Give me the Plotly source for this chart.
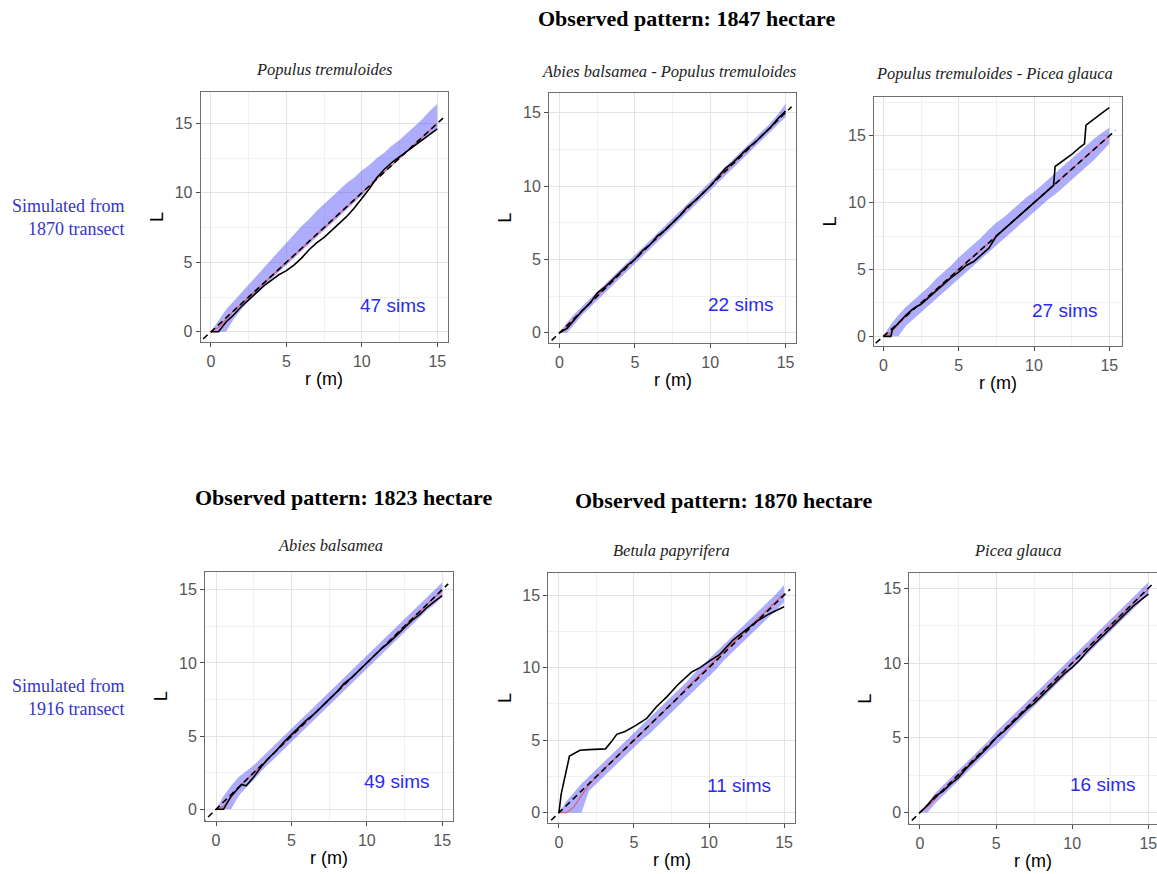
import plotly.graph_objects as go

# ---------------- data ----------------
R = [0, 0.5, 1, 1.5, 2, 2.5, 3, 3.5, 4, 4.5, 5, 5.5, 6, 6.5, 7, 7.5, 8, 8.5, 9, 9.5,
     10, 10.5, 11, 11.5, 12, 12.5, 13, 13.5, 14, 14.5, 15]

# theoretical L = r (dashed)
theo_r = [-1.0, 15.4]
theo_L = [-1.0, 15.4]

# Panel 1: Populus tremuloides (47 sims)
lo1 = [0, 0, 0, 0.9, 1.6, 2.2, 2.7, 3.2, 3.8, 4.3, 4.8, 5.3, 5.8, 6.3, 6.8, 7.3, 7.8, 8.3, 8.8, 9.3,
       9.8, 10.4, 11.0, 11.6, 12.1, 12.5, 13.0, 13.4, 13.8, 14.2, 14.6]
hi1 = [0, 0.8, 1.6, 2.2, 2.8, 3.4, 4.0, 4.6, 5.2, 5.8, 6.4, 7.0, 7.6, 8.1, 8.7, 9.2, 9.7, 10.2, 10.7, 11.1,
       11.6, 12.0, 12.5, 12.9, 13.4, 13.8, 14.3, 14.8, 15.3, 15.9, 16.4]
mean1 = [0, 0.3, 0.9, 1.5, 2.0, 2.5, 3.0, 3.5, 4.0, 4.5, 5.0, 5.5, 6.0, 6.5, 7.0, 7.5, 8.0, 8.5, 9.0, 9.5,
         10.0, 10.5, 11.0, 11.5, 12.0, 12.5, 13.0, 13.5, 14.0, 14.5, 15.0]
obs1_r = R
obs1_L = [0, 0, 0.7, 1.2, 1.8, 2.3, 2.8, 3.3, 3.7, 4.1, 4.4, 4.8, 5.3, 5.9, 6.4, 6.8, 7.3, 7.8, 8.3, 8.9,
          9.6, 10.3, 11.1, 11.7, 12.2, 12.6, 13.0, 13.4, 13.8, 14.2, 14.6]

# Panel 2: Abies balsamea - Populus tremuloides (22 sims)
lo2 = [0, 0, 0.6, 1.2, 1.7, 2.2, 2.7, 3.2, 3.7, 4.2, 4.7, 5.2, 5.7, 6.2, 6.7, 7.2, 7.7, 8.2, 8.7, 9.2,
       9.7, 10.2, 10.7, 11.2, 11.7, 12.2, 12.7, 13.2, 13.7, 14.2, 14.7]
hi2 = [0, 0.7, 1.3, 1.8, 2.3, 2.8, 3.3, 3.8, 4.3, 4.8, 5.3, 5.8, 6.3, 6.8, 7.3, 7.8, 8.3, 8.8, 9.3, 9.8,
       10.3, 10.8, 11.3, 11.8, 12.3, 12.8, 13.3, 13.8, 14.3, 14.9, 15.6]
mean2 = [0, 0.4, 1.0, 1.5, 2.0, 2.5, 3.0, 3.5, 4.0, 4.5, 5.0, 5.5, 6.0, 6.5, 7.0, 7.5, 8.0, 8.5, 9.0, 9.5,
         10.0, 10.5, 11.0, 11.5, 12.0, 12.5, 13.0, 13.5, 14.0, 14.6, 15.1]
obs2_r = R
obs2_L = [0, 0.3, 0.9, 1.5, 2.0, 2.7, 3.1, 3.6, 4.1, 4.6, 5.0, 5.6, 6.0, 6.6, 7.0, 7.5, 8.0, 8.6, 9.0, 9.5,
          10.0, 10.6, 11.2, 11.6, 12.1, 12.6, 13.0, 13.5, 14.0, 14.6, 15.1]

# Panel 3: Populus tremuloides - Picea glauca (27 sims)
lo3 = [0, 0, 0, 0.8, 1.3, 1.8, 2.3, 2.8, 3.3, 3.8, 4.3, 4.8, 5.3, 5.8, 6.3, 6.8, 7.3, 7.8, 8.3, 8.8,
       9.3, 9.8, 10.3, 10.7, 11.2, 11.7, 12.2, 12.7, 13.2, 13.8, 14.4]
hi3 = [0, 0.9, 1.6, 2.2, 2.7, 3.2, 3.7, 4.3, 4.8, 5.3, 5.9, 6.4, 6.9, 7.4, 8.0, 8.5, 8.9, 9.4, 9.9, 10.4,
       10.8, 11.3, 11.8, 12.3, 12.8, 13.3, 13.8, 14.3, 14.8, 15.2, 15.6]
mean3 = [0, 0.3, 0.9, 1.5, 2.0, 2.5, 3.0, 3.5, 4.0, 4.5, 5.0, 5.5, 6.0, 6.5, 7.0, 7.5, 8.0, 8.5, 9.0, 9.5,
         10.0, 10.5, 11.0, 11.5, 12.0, 12.5, 13.0, 13.5, 14.0, 14.5, 15.0]
obs3_r = [0, 0.5, 0.6, 1.0, 1.5, 2.0, 2.5, 3.0, 3.5, 4.0, 4.5, 5.0, 5.5, 6.0, 6.5, 7.0, 7.5, 8.0, 8.5, 9.0,
          9.5, 10.0, 10.5, 11.0, 11.3, 11.4, 12.0, 12.5, 13.0, 13.35, 13.45, 14.0, 14.5, 15.0]
obs3_L = [0, 0, 0.5, 1.0, 1.6, 2.1, 2.4, 2.9, 3.4, 3.9, 4.4, 4.8, 5.3, 5.6, 6.1, 6.6, 7.5, 8.0, 8.5, 9.0,
          9.5, 10.0, 10.5, 11.0, 11.3, 12.7, 13.2, 13.6, 14.1, 14.4, 15.8, 16.3, 16.7, 17.1]

# Panel 4: Abies balsamea (49 sims)
lo4 = [0, 0, 0, 0.9, 1.5, 2.0, 2.6, 3.1, 3.6, 4.1, 4.6, 5.1, 5.6, 6.1, 6.6, 7.1, 7.6, 8.1, 8.6, 9.1,
       9.6, 10.1, 10.6, 11.1, 11.6, 12.1, 12.6, 13.1, 13.6, 14.0, 14.5]
hi4 = [0, 0.9, 1.6, 2.2, 2.6, 3.0, 3.5, 4.0, 4.5, 5.0, 5.5, 6.0, 6.5, 7.0, 7.5, 8.0, 8.5, 9.0, 9.5, 10.0,
       10.5, 11.0, 11.5, 12.0, 12.5, 13.0, 13.5, 14.0, 14.5, 15.0, 15.5]
mean4 = [0, 0.2, 0.8, 1.5, 2.0, 2.5, 3.0, 3.5, 4.0, 4.5, 5.0, 5.5, 6.0, 6.5, 7.0, 7.5, 8.0, 8.5, 9.0, 9.5,
         10.0, 10.5, 11.0, 11.5, 12.0, 12.5, 13.0, 13.5, 14.0, 14.5, 14.9]
obs4_r = [0, 0.5, 1.0, 1.5, 1.7, 2.0, 2.5, 3.0, 3.5, 4.0, 4.5, 5.0, 5.5, 6.0, 6.5, 7.0, 7.5, 8.0, 8.5, 9.0,
          9.5, 10.0, 10.5, 11.0, 11.5, 12.0, 12.5, 13.0, 13.5, 14.0, 14.5, 15.0]
obs4_L = [0, 0, 0.9, 1.5, 1.7, 1.6, 2.2, 2.9, 3.5, 4.0, 4.6, 5.1, 5.6, 6.1, 6.5, 7.0, 7.5, 8.0, 8.6, 9.0,
          9.5, 10.0, 10.5, 11.0, 11.4, 11.9, 12.4, 12.9, 13.3, 13.8, 14.2, 14.6]

# Panel 5: Betula papyrifera (11 sims)
lo5 = [0, 0, 0, 0, 1.5, 2.0, 2.5, 3.0, 3.5, 4.0, 4.5, 5.0, 5.4, 5.9, 6.4, 6.9, 7.4, 7.9, 8.4, 8.9,
       9.4, 9.9, 10.5, 11.0, 11.5, 12.0, 12.5, 13.0, 13.5, 14.0, 14.5]
hi5 = [0, 0.8, 1.4, 2.0, 2.5, 3.0, 3.5, 4.0, 4.5, 5.0, 5.5, 6.0, 6.5, 7.0, 7.5, 8.0, 8.5, 9.0, 9.6, 10.1,
       10.6, 11.1, 11.6, 12.1, 12.6, 13.1, 13.6, 14.1, 14.6, 15.1, 15.7]
mean5 = [0, 0, 0.4, 1.2, 1.9, 2.5, 3.0, 3.5, 4.0, 4.5, 5.0, 5.5, 6.0, 6.5, 7.0, 7.5, 8.0, 8.6, 9.1, 9.6,
         10.1, 10.6, 11.1, 11.6, 12.1, 12.6, 13.1, 13.6, 14.1, 14.6, 15.1]
obs5_r = [0, 0.15, 0.7, 1.4, 2.0, 2.7, 3.1, 3.5, 3.85, 4.4, 5.1, 5.85, 6.5, 7.2, 8.0, 8.85, 9.4, 10.1,
          10.7, 11.6, 12.1, 13.2, 14.0, 15.0]
obs5_L = [0, 1.3, 3.9, 4.3, 4.35, 4.4, 4.4, 4.9, 5.4, 5.6, 6.0, 6.5, 7.3, 8.0, 8.9, 9.7, 10.0, 10.5,
          10.9, 11.9, 12.3, 13.2, 13.7, 14.2]

# Panel 6: Picea glauca (16 sims)
lo6 = [0, 0, 0.6, 1.1, 1.6, 2.1, 2.6, 3.1, 3.6, 4.1, 4.5, 5.0, 5.6, 6.1, 6.6, 7.1, 7.6, 8.1, 8.6, 9.1,
       9.6, 10.1, 10.6, 11.1, 11.6, 12.1, 12.6, 13.1, 13.6, 14.1, 14.6]
hi6 = [0, 0.6, 1.3, 1.8, 2.3, 2.8, 3.3, 3.8, 4.3, 4.8, 5.4, 5.9, 6.4, 6.9, 7.4, 7.9, 8.4, 8.9, 9.4, 9.9,
       10.4, 10.9, 11.4, 11.9, 12.4, 12.9, 13.4, 13.9, 14.4, 14.9, 15.4]
mean6 = [0, 0.4, 0.9, 1.5, 2.0, 2.5, 3.0, 3.5, 4.0, 4.5, 5.0, 5.5, 6.0, 6.5, 7.0, 7.5, 8.0, 8.5, 9.0, 9.5,
         10.0, 10.5, 11.0, 11.5, 12.0, 12.5, 13.0, 13.5, 14.0, 14.5, 14.9]
obs6_r = R
obs6_L = [0, 0.5, 1.1, 1.4, 1.9, 2.3, 2.9, 3.4, 3.9, 4.4, 5.0, 5.4, 5.9, 6.4, 6.9, 7.3, 7.8, 8.3, 8.8, 9.3,
          9.7, 10.2, 10.8, 11.3, 11.8, 12.3, 12.8, 13.3, 13.8, 14.2, 14.6]

panel_titles = ["Populus tremuloides", "Abies balsamea - Populus tremuloides",
                "Populus tremuloides - Picea glauca", "Abies balsamea",
                "Betula papyrifera", "Picea glauca"]
sims_labels = ["47 sims", "22 sims", "27 sims", "49 sims", "11 sims", "16 sims"]
headings = ["Observed pattern: 1847 hectare", "Observed pattern: 1823 hectare",
            "Observed pattern: 1870 hectare"]
row_labels = ["Simulated from<br>1870 transect", "Simulated from<br>1916 transect"]
x_title = "r (m)"
y_title = "L"
xticks = [0, 5, 10, 15]
yticks = [0, 5, 10, 15]

panels = [
    (lo1, hi1, mean1, obs1_r, obs1_L),
    (lo2, hi2, mean2, obs2_r, obs2_L),
    (lo3, hi3, mean3, obs3_r, obs3_L),
    (lo4, hi4, mean4, obs4_r, obs4_L),
    (lo5, hi5, mean5, obs5_r, obs5_L),
    (lo6, hi6, mean6, obs6_r, obs6_L),
]

# ---------------- layout (pixel boxes of each panel) ----------------
W, H = 1157, 874
boxes = [  # x0, x1, y0(top), y1(bottom)
    (200.7, 447.7, 92, 342),
    (549, 796, 92.7, 343),
    (874, 1122, 97, 346),
    (205, 452.7, 571.7, 821),
    (548.3, 795, 573.3, 822.7),
    (909.3, 1157, 573.3, 824),
]
xranges = [(-0.68, 15.69), (-0.70, 15.69), (-0.62, 15.84), (-0.73, 15.7), (-0.71, 15.73), (-0.70, 15.57)]
yranges = [(-0.74, 17.26), (-0.70, 16.36), (-0.72, 17.9), (-0.8, 16.23), (-0.69, 16.5), (-0.77, 16.0)]

fig = go.Figure()
BAND = "rgba(50,50,245,0.40)"
MEAN = "#e0607a"
SANS = "Liberation Sans, Arial, sans-serif"
SERIF = "Liberation Serif, Times New Roman, serif"

layout_axes = {}
annotations = []
for i, (lo, hi, mean, orr, obl) in enumerate(panels):
    n = i + 1
    xa = "x" if n == 1 else f"x{n}"
    ya = "y" if n == 1 else f"y{n}"
    fig.add_trace(go.Scatter(x=R, y=lo, xaxis=xa, yaxis=ya, mode="lines",
                             line=dict(width=0, color=BAND), showlegend=False, hoverinfo="skip"))
    fig.add_trace(go.Scatter(x=R, y=hi, xaxis=xa, yaxis=ya, mode="lines", fill="tonexty",
                             fillcolor=BAND, line=dict(width=0, color=BAND),
                             showlegend=False, hoverinfo="skip"))
    fig.add_trace(go.Scatter(x=R, y=mean, xaxis=xa, yaxis=ya, mode="lines",
                             line=dict(width=1.3, color=MEAN), showlegend=False))
    fig.add_trace(go.Scatter(x=orr, y=obl, xaxis=xa, yaxis=ya, mode="lines",
                             line=dict(width=1.6, color="black"), showlegend=False))
    fig.add_trace(go.Scatter(x=theo_r, y=theo_L, xaxis=xa, yaxis=ya, mode="lines",
                             line=dict(width=1.6, color="black", dash="6px,4px"), showlegend=False))

    x0, x1, yt, yb = boxes[i]
    common = dict(showline=True, mirror=True, linecolor="#6e6e6e", linewidth=1,
                  showgrid=True, gridcolor="#e4e4e4", gridwidth=1, zeroline=False,
                  ticks="outside", ticklen=4, tickcolor="#4d4d4d", tickwidth=1,
                  tickfont=dict(family=SANS, size=16, color="#555555"),
                  minor=dict(dtick=2.5, showgrid=True, gridcolor="#f1f1f1", gridwidth=1, ticks=""),
                  tickmode="array", ticklabeloverflow="allow")
    layout_axes["xaxis" if n == 1 else f"xaxis{n}"] = dict(
        common, domain=[x0 / W, x1 / W], range=list(xranges[i]), tickvals=xticks,
        ticklabelstandoff=1, anchor=ya)
    layout_axes["yaxis" if n == 1 else f"yaxis{n}"] = dict(
        common, domain=[1 - yb / H, 1 - yt / H], range=list(yranges[i]), tickvals=yticks,
        anchor=xa, title=dict(text=y_title, font=dict(family=SANS, size=18, color="black"), standoff=6))

    # x-axis title placed below the panel
    annotations.append(dict(x=(x0 + x1) / 2 / W, y=1 - (yb + 37) / H, xref="paper", yref="paper",
                            text=x_title, showarrow=False, xanchor="center", yanchor="middle",
                            font=dict(family=SANS, size=18, color="black")))
    annotations.append(dict(x=12, y=1.9, xref=xa, yref=ya, text=sims_labels[i], showarrow=False,
                            font=dict(family=SANS, size=19, color="#2a2af0")))

# panel titles
title_pos = [(324, 70), (669, 72), (994, 73), (330, 545), (671, 550), (1018, 550)]
for t, (px, py) in zip(panel_titles, title_pos):
    annotations.append(dict(x=px / W, y=1 - py / H, xref="paper", yref="paper", text=f"<i>{t}</i>",
                            showarrow=False, font=dict(family=SERIF, size=16.5, color="#222222"),
                            xanchor="center", yanchor="middle"))

# headings
head_pos = [(686, 18), (343, 497), (723, 500)]
for t, (px, py) in zip(headings, head_pos):
    annotations.append(dict(x=px / W, y=1 - py / H, xref="paper", yref="paper", text=f"<b>{t}</b>",
                            showarrow=False, font=dict(family=SERIF, size=22, color="black"),
                            xanchor="center", yanchor="middle"))

# row labels
row_pos = [(126, 217), (126, 697)]
for t, (px, py) in zip(row_labels, row_pos):
    annotations.append(dict(x=px / W, y=1 - py / H, xref="paper", yref="paper", text=t,
                            showarrow=False, align="right", font=dict(family=SERIF, size=18, color="#3535c8"),
                            xanchor="right", yanchor="middle"))

fig.update_layout(width=W, height=H, margin=dict(l=0, r=0, t=0, b=0),
                  paper_bgcolor="white", plot_bgcolor="white", showlegend=False,
                  annotations=annotations, **layout_axes)

fig.write_html("out.html", config={"responsive": False, "displayModeBar": False},
               post_script="document.body.style.margin='0';document.body.style.overflow='hidden';")
